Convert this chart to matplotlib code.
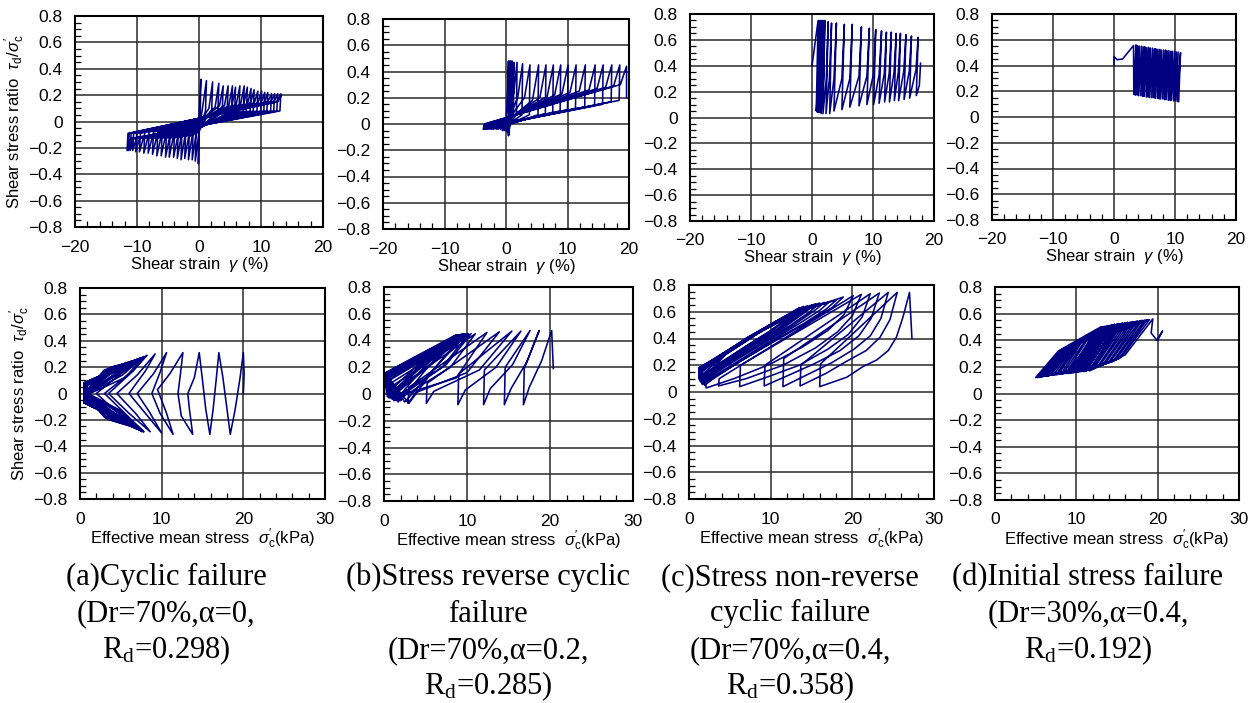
import matplotlib
matplotlib.use("Agg")
import matplotlib.pyplot as plt
from matplotlib.ticker import MultipleLocator, FuncFormatter

plt.rcParams["font.family"] = ["Liberation Sans", "DejaVu Sans"]
plt.rcParams["mathtext.fontset"] = "custom"
plt.rcParams["mathtext.rm"] = "Liberation Sans"
plt.rcParams["mathtext.it"] = "Liberation Sans:italic"

# ---- (a) cyclic failure: shear strain (%) vs stress ratio ----
a_top_strain = [
    0.0,
    0.0, 0.3, 0.2, 0.0, -0.1, 0.0,
    0.5, 1.2, 1.05, 0.0, -0.6, -0.45,
    1.6, 2.2, 2.05, -0.5, -1.1, -0.95,
    2.6, 3.2, 3.05, -1.1, -1.7, -1.55,
    3.3, 3.9, 3.75, -1.7, -2.3, -2.15,
    4.1, 4.7, 4.55, -2.3, -2.9, -2.75,
    4.8, 5.4, 5.25, -2.9, -3.5, -3.35,
    5.3, 5.9, 5.75, -3.5, -4.1, -3.95,
    6.0, 6.6, 6.45, -4.2, -4.8, -4.65,
    6.7, 7.3, 7.15, -4.8, -5.4, -5.25,
    7.2, 7.8, 7.65, -5.5, -6.1, -5.95,
    7.8, 8.4, 8.25, -6.2, -6.8, -6.65,
    8.3, 8.9, 8.75, -6.9, -7.5, -7.35,
    8.9, 9.5, 9.35, -7.6, -8.2, -8.05,
    9.5, 10.1, 9.95, -8.3, -8.9, -8.75,
    10.0, 10.6, 10.45, -9.0, -9.6, -9.45,
    10.5, 11.1, 10.95, -9.6, -10.2, -10.05,
    11.1, 11.7, 11.55, -10.1, -10.7, -10.55,
    11.6, 12.2, 12.05, -10.5, -11.1, -10.95,
    12.1, 12.7, 12.55, -10.8, -11.4, -11.25,
    12.6, 13.2, 13.05, -11.0, -11.6, -11.45,
    12.7, 13.3,
]
a_top_ratio = [
    0.0,
    0.05, 0.32, 0.06, -0.05, -0.32, -0.06,
    0.08, 0.31, 0.08, -0.08, -0.30, -0.05,
    0.10, 0.30, 0.09, -0.10, -0.29, -0.06,
    0.11, 0.29, 0.08, -0.11, -0.29, -0.06,
    0.12, 0.27, 0.08, -0.12, -0.28, -0.07,
    0.12, 0.27, 0.09, -0.12, -0.29, -0.07,
    0.12, 0.27, 0.08, -0.12, -0.28, -0.07,
    0.12, 0.26, 0.08, -0.13, -0.27, -0.07,
    0.13, 0.27, 0.08, -0.13, -0.27, -0.07,
    0.13, 0.27, 0.08, -0.13, -0.27, -0.08,
    0.13, 0.26, 0.08, -0.13, -0.26, -0.08,
    0.13, 0.25, 0.08, -0.13, -0.26, -0.08,
    0.14, 0.24, 0.08, -0.13, -0.25, -0.08,
    0.14, 0.23, 0.08, -0.13, -0.24, -0.08,
    0.14, 0.23, 0.08, -0.13, -0.24, -0.08,
    0.14, 0.22, 0.08, -0.13, -0.23, -0.09,
    0.14, 0.22, 0.08, -0.13, -0.23, -0.09,
    0.15, 0.21, 0.08, -0.13, -0.22, -0.09,
    0.15, 0.21, 0.08, -0.13, -0.22, -0.09,
    0.15, 0.21, 0.08, -0.13, -0.22, -0.09,
    0.15, 0.21, 0.08, -0.13, -0.22, -0.09,
    0.15, 0.20,
]

# ---- (b) stress reverse cyclic failure ----
b_top_strain = [
    0.0,
    0.3, 0.4, 0.35, 0.45, 0.4, 0.45,
    0.5, 0.6, 0.55, 0.55, 0.5, 0.55,
    0.7, 0.8, 0.75, 0.6, 0.5, 0.55,
    0.9, 1.0, 0.95, 0.6, 0.4, 0.5,
    1.1, 1.3, 1.2, 0.5, 0.2, 0.3,
    1.3, 1.8, 1.7, 0.3, 0.0, 0.1,
    1.9, 2.7, 2.6, 0.1, -0.3, -0.15,
    3.0, 3.9, 3.8, -0.2, -0.6, -0.45,
    4.3, 5.3, 5.2, -0.5, -0.9, -0.75,
    5.5, 6.5, 6.4, -0.9, -1.3, -1.15,
    6.7, 7.7, 7.6, -1.2, -1.6, -1.45,
    7.9, 8.9, 8.8, -1.6, -2.0, -1.85,
    9.1, 10.1, 10.0, -1.9, -2.3, -2.15,
    10.4, 11.4, 11.3, -2.2, -2.6, -2.45,
    11.9, 12.9, 12.8, -2.5, -2.9, -2.75,
    13.5, 14.5, 14.4, -2.7, -3.1, -2.95,
    14.8, 15.8, 15.7, -2.9, -3.3, -3.15,
    16.2, 17.2, 17.1, -3.1, -3.5, -3.35,
    17.5, 18.5, 18.4, -3.3, -3.7, -3.55,
    18.6, 19.6, 19.6,
]
b_top_ratio = [
    0.0,
    0.30, 0.48, 0.10, -0.02, -0.09, 0.00,
    0.30, 0.48, 0.10, 0.00, -0.08, 0.02,
    0.30, 0.48, 0.10, 0.00, -0.08, 0.02,
    0.30, 0.48, 0.10, 0.00, -0.07, 0.02,
    0.30, 0.47, 0.08, 0.00, -0.06, 0.01,
    0.25, 0.47, 0.07, -0.01, -0.05, 0.00,
    0.20, 0.46, 0.07, -0.01, -0.05, 0.00,
    0.20, 0.45, 0.07, -0.02, -0.05, 0.00,
    0.18, 0.45, 0.07, -0.02, -0.04, 0.00,
    0.20, 0.45, 0.08, -0.02, -0.04, 0.00,
    0.21, 0.45, 0.09, -0.02, -0.04, 0.00,
    0.22, 0.45, 0.10, -0.02, -0.04, 0.00,
    0.23, 0.45, 0.11, -0.02, -0.04, 0.00,
    0.24, 0.45, 0.12, -0.02, -0.04, 0.00,
    0.25, 0.45, 0.13, -0.02, -0.04, 0.00,
    0.26, 0.45, 0.14, -0.02, -0.04, 0.00,
    0.27, 0.45, 0.15, -0.02, -0.04, 0.00,
    0.28, 0.45, 0.17, -0.02, -0.04, 0.00,
    0.29, 0.45, 0.18, -0.02, -0.04, 0.00,
    0.30, 0.44, 0.20,
]

# ---- (c) stress non-reverse cyclic failure ----
c_top_strain = [
    0.0,
    1.0, 0.7,
    1.05, 1.2, 0.9,
    1.25, 1.4, 1.1,
    1.45, 1.6, 1.3,
    1.65, 1.85, 1.5,
    1.9, 2.1, 1.8,
    2.35, 2.65, 2.3,
    2.85, 3.2, 2.9,
    3.6, 4.0, 3.6,
    4.9, 5.3, 4.9,
    6.2, 6.6, 6.2,
    7.7, 8.1, 7.7,
    9.0, 9.4, 9.0,
    10.05, 10.45, 10.1,
    11.0, 11.4, 11.0,
    11.85, 12.2, 11.9,
    12.65, 13.0, 12.7,
    13.45, 13.8, 13.5,
    14.15, 14.5, 14.2,
    15.05, 15.4, 15.1,
    15.95, 16.3, 16.0,
    17.05, 17.4, 17.1,
    17.6, 17.8,
]
c_top_ratio = [
    0.40,
    0.75, 0.05,
    0.30, 0.75, 0.04,
    0.30, 0.75, 0.04,
    0.30, 0.75, 0.04,
    0.30, 0.75, 0.03,
    0.30, 0.75, 0.03,
    0.30, 0.74, 0.03,
    0.30, 0.73, 0.03,
    0.30, 0.73, 0.05,
    0.30, 0.72, 0.06,
    0.30, 0.72, 0.08,
    0.32, 0.70, 0.09,
    0.32, 0.69, 0.10,
    0.33, 0.68, 0.10,
    0.33, 0.67, 0.11,
    0.34, 0.66, 0.12,
    0.34, 0.66, 0.12,
    0.35, 0.65, 0.13,
    0.35, 0.65, 0.13,
    0.36, 0.64, 0.14,
    0.36, 0.63, 0.15,
    0.37, 0.62, 0.17,
    0.25, 0.42,
]

# ---- (d) initial stress failure ----
d_top_strain = [
    0.0, 0.0, 0.5, 1.4,
    3.2, 3.25, 3.6, 3.5, 3.85, 3.8, 4.15, 4.05, 4.5, 4.4,
    4.8, 4.7, 5.05, 4.95, 5.4, 5.3, 5.7, 5.6, 5.95, 5.85,
    6.3, 6.2, 6.6, 6.5, 6.85, 6.75, 7.2, 7.1, 7.5, 7.4,
    7.75, 7.65, 8.1, 8.0, 8.4, 8.3, 8.65, 8.55, 9.0, 8.9,
    9.3, 9.2, 9.55, 9.45, 9.9, 9.8, 10.2, 10.1, 10.5, 10.4,
    10.9, 10.6,
]
d_top_ratio = [
    0.40, 0.47, 0.445, 0.45,
    0.555, 0.175, 0.56, 0.17, 0.555, 0.17, 0.55, 0.165, 0.55, 0.165,
    0.545, 0.16, 0.545, 0.16, 0.54, 0.155, 0.54, 0.155, 0.535, 0.15,
    0.535, 0.15, 0.53, 0.15, 0.53, 0.145, 0.525, 0.145, 0.525, 0.14,
    0.52, 0.14, 0.52, 0.14, 0.52, 0.135, 0.515, 0.135, 0.515, 0.13,
    0.51, 0.13, 0.51, 0.13, 0.51, 0.125, 0.505, 0.125, 0.505, 0.12,
    0.50, 0.12,
]

# ---- effective stress paths (kPa vs stress ratio) ----
a_bot_stress = [
    20.0, 20.1, 20.0,
    19.6, 19.0, 18.4, 18.0, 17.5, 17.0,
    16.7, 16.3, 15.9, 15.4, 15.0, 14.6,
    14.0, 13.2, 13.4, 13.8, 12.4, 12.0, 12.3, 12.6,
    11.0, 9.5, 10.6, 11.4, 9.8, 8.8, 9.8, 10.6,
    9.0, 7.0, 8.5, 10.0, 8.0, 6.0, 8.0, 9.2,
    7.0, 4.5, 6.8, 8.6, 6.0, 3.5, 6.5, 8.2,
    6.0, 3.0, 5.5, 7.8, 4.5, 2.0, 5.0, 7.9,
    5.5, 1.2, 1.0, 7.8, 5.0, 1.0, 0.9, 7.8,
    5.2, 1.0, 0.9, 7.6, 5.2, 0.9, 0.8, 7.8,
    4.8, 0.9, 0.8, 7.7, 4.6, 0.8, 0.8, 7.6,
    5.0, 0.8, 0.8, 7.4, 4.8, 0.7, 0.7, 7.5,
    4.5, 0.8, 0.7, 7.5, 4.2, 0.7, 0.7, 7.4,
    4.2, 0.7, 0.7, 7.2, 4.4, 0.6, 0.6, 7.5,
    4.6, 0.7, 0.6, 7.3, 4.0, 0.6, 0.6, 7.3,
    3.8, 0.6, 0.6, 7.0, 3.8, 0.6, 0.6, 7.2,
    4.0, 0.6, 0.6, 7.1, 4.2, 0.5, 0.5, 7.0,
    3.5, 0.6, 0.5, 6.9, 3.5, 0.5, 0.5, 7.1,
    3.8, 0.5, 0.5, 6.8, 3.6, 0.5, 0.5, 6.8,
    3.2, 0.5, 0.5, 6.6, 3.0, 0.5, 0.5, 6.6,
    3.5, 0.5, 0.5, 6.5, 3.2, 0.5, 0.5, 6.5,
    3.0, 0.5, 0.5, 6.3, 3.0, 0.5,
]
a_bot_ratio = [
    0.0, 0.15, 0.31,
    0.12, -0.12, -0.31, -0.12, 0.12, 0.31,
    0.12, -0.12, -0.31, -0.12, 0.10, 0.31,
    0.12, 0.0, -0.12, -0.31, -0.17, 0.0, 0.15, 0.31,
    0.15, 0.03, -0.15, -0.31, -0.15, 0.0, 0.16, 0.31,
    0.15, 0.0, -0.14, -0.30, -0.15, 0.0, 0.17, 0.30,
    0.14, 0.0, -0.15, -0.29, -0.15, 0.0, 0.17, 0.29,
    0.15, 0.0, -0.15, -0.29, -0.14, 0.0, 0.15, 0.28,
    0.12, 0.0, -0.05, -0.29, -0.13, 0.0, 0.06, 0.28,
    0.14, 0.0, -0.05, -0.29, -0.15, 0.0, 0.06, 0.27,
    0.15, 0.0, -0.05, -0.28, -0.14, 0.0, 0.07, 0.27,
    0.17, 0.0, -0.06, -0.28, -0.17, 0.0, 0.07, 0.27,
    0.16, 0.0, -0.06, -0.28, -0.15, 0.0, 0.07, 0.27,
    0.18, 0.0, -0.06, -0.27, -0.18, 0.0, 0.08, 0.26,
    0.19, 0.0, -0.06, -0.27, -0.16, 0.0, 0.08, 0.26,
    0.17, 0.0, -0.07, -0.27, -0.18, 0.0, 0.08, 0.26,
    0.20, 0.0, -0.07, -0.26, -0.20, 0.0, 0.08, 0.26,
    0.18, 0.0, -0.07, -0.26, -0.17, 0.0, 0.08, 0.25,
    0.20, 0.0, -0.07, -0.26, -0.20, 0.0, 0.08, 0.25,
    0.17, 0.0, -0.07, -0.25, -0.17, 0.0, 0.08, 0.25,
    0.19, 0.0, -0.07, -0.25, -0.19, 0.0, 0.08, 0.24,
    0.18, 0.0, -0.07, -0.24, -0.18, 0.0,
]

b_bot_stress = [
    20.4, 20.2,
    19.0, 17.5, 16.8, 16.9, 18.7,
    17.2, 15.3, 14.5, 14.6, 17.6,
    15.5, 12.8, 12.0, 12.1, 16.5,
    13.5, 9.8, 8.9, 9.0, 15.4,
    11.5, 6.0, 5.1, 5.2, 13.9,
    10.0, 3.8, 2.9, 3.0, 12.4,
    8.7, 2.5, 1.7, 1.5, 11.0,
    8.0, 1.5, 1.0, 10.5,
    7.5, 1.2, 0.8, 10.2,
    7.0, 1.0, 0.6, 10.0,
    6.5, 2.5, 0.5, 9.8,
    6.0, 0.8, 0.4, 9.6,
    6.2, 3.0, 0.3, 9.4,
    5.5, 0.6, 0.3, 9.2,
    5.0, 2.0, 0.3, 9.0,
    5.6, 0.5, 0.2, 8.9,
    4.8, 1.5, 0.3, 8.8,
    5.0, 0.4, 0.2, 8.7,
    4.5, 1.0, 0.2, 8.6,
    5.2, 0.3, 0.2,
]
b_bot_ratio = [
    0.19, 0.475,
    0.25, 0.05, -0.08, 0.19, 0.475,
    0.24, 0.04, -0.08, 0.20, 0.475,
    0.22, 0.04, -0.08, 0.18, 0.47,
    0.20, 0.03, -0.08, 0.15, 0.47,
    0.18, 0.02, -0.07, 0.08, 0.465,
    0.16, 0.01, -0.07, 0.05, 0.46,
    0.12, 0.00, -0.06, 0.04, 0.45,
    0.20, -0.05, 0.06, 0.45,
    0.22, -0.05, 0.08, 0.45,
    0.20, -0.04, 0.10, 0.45,
    0.22, -0.06, 0.12, 0.45,
    0.24, -0.03, 0.10, 0.45,
    0.20, -0.07, 0.14, 0.45,
    0.22, -0.03, 0.12, 0.44,
    0.18, -0.05, 0.15, 0.44,
    0.26, -0.02, 0.13, 0.44,
    0.20, -0.04, 0.16, 0.44,
    0.25, -0.02, 0.14, 0.44,
    0.22, -0.03, 0.16, 0.44,
    0.28, 0.00, 0.15,
]

c_bot_stress = [
    27.3, 27.0,
    26.2, 25.4, 24.4, 23.0, 21.3, 19.3, 16.0, 16.1, 25.5,
    24.6, 23.4, 21.7, 19.3, 16.8, 13.6, 13.7, 24.4,
    23.5, 22.2, 20.2, 17.5, 14.5, 11.5, 11.6, 23.3,
    22.3, 20.8, 18.5, 15.3, 12.0, 9.2, 9.3, 22.2,
    21.2, 19.5, 17.0, 13.5, 9.5, 6.2, 6.3, 21.1,
    20.0, 18.2, 15.5, 11.5, 7.0, 3.6, 3.7, 20.1,
    19.0, 17.0, 14.0, 10.0, 5.5, 2.1, 2.0, 4.5, 9.0, 13.5, 18.9,
    17.5, 14.5, 10.5, 6.0, 3.0, 1.9, 1.8, 4.2, 8.5, 13.0, 18.1,
    16.8, 14.0, 10.0, 5.8, 2.8, 1.7, 1.6, 4.0, 8.2, 12.6, 17.2,
    16.0, 13.2, 9.4, 5.2, 2.5, 1.6, 1.5, 3.8, 8.0, 12.3, 16.6,
    15.4, 12.8, 9.0, 5.0, 2.4, 1.5, 1.4, 3.6, 7.8, 12.0, 16.0,
    14.8, 12.2, 8.6, 4.8, 2.3, 1.4, 1.3, 3.5, 7.6, 11.7, 15.5,
    14.3, 11.8, 8.2, 4.5, 2.2, 1.4, 1.3, 3.4, 7.4, 11.4, 15.0,
    13.8, 11.3, 7.8, 4.3, 2.1, 1.3, 1.3, 3.3, 7.2, 11.0, 14.5,
    13.3, 10.8, 7.5, 4.0, 2.0, 1.3, 1.2, 3.2, 7.0, 10.7, 14.0,
    12.8, 10.4, 7.2, 3.8, 1.9, 1.2, 1.2, 3.1, 6.8, 10.4, 13.5,
    12.4, 10.0, 6.9, 3.6, 1.8, 1.2, 1.2,
]
c_bot_ratio = [
    0.40, 0.745,
    0.56, 0.41, 0.31, 0.24, 0.19, 0.11, 0.04, 0.21, 0.745,
    0.54, 0.41, 0.31, 0.23, 0.14, 0.045, 0.20, 0.745,
    0.55, 0.42, 0.32, 0.22, 0.13, 0.04, 0.25, 0.74,
    0.55, 0.42, 0.31, 0.21, 0.12, 0.045, 0.20, 0.735,
    0.56, 0.43, 0.32, 0.20, 0.11, 0.04, 0.20, 0.73,
    0.57, 0.45, 0.33, 0.20, 0.10, 0.045, 0.10, 0.72,
    0.58, 0.46, 0.34, 0.21, 0.10, 0.03, 0.12, 0.28, 0.46, 0.60, 0.71,
    0.63, 0.52, 0.38, 0.22, 0.10, 0.05, 0.14, 0.27, 0.44, 0.59, 0.69,
    0.62, 0.51, 0.37, 0.21, 0.10, 0.06, 0.15, 0.27, 0.43, 0.58, 0.675,
    0.61, 0.50, 0.36, 0.20, 0.10, 0.06, 0.16, 0.27, 0.43, 0.57, 0.67,
    0.61, 0.50, 0.36, 0.21, 0.11, 0.07, 0.16, 0.26, 0.42, 0.57, 0.665,
    0.60, 0.49, 0.36, 0.21, 0.11, 0.08, 0.17, 0.26, 0.42, 0.56, 0.66,
    0.60, 0.49, 0.36, 0.21, 0.12, 0.08, 0.17, 0.26, 0.41, 0.55, 0.65,
    0.59, 0.48, 0.35, 0.21, 0.12, 0.09, 0.17, 0.25, 0.41, 0.54, 0.645,
    0.58, 0.47, 0.35, 0.21, 0.12, 0.10, 0.18, 0.25, 0.40, 0.53, 0.64,
    0.57, 0.47, 0.35, 0.21, 0.13, 0.10, 0.18, 0.25, 0.39, 0.52, 0.63,
    0.57, 0.46, 0.34, 0.21, 0.13, 0.11, 0.18,
]

d_bot_stress = [
    20.0, 20.6, 19.9, 19.2, 19.4,
    16.0, 11.6, 14.5, 19.0,
    15.5, 11.2, 14.0, 18.7,
    15.2, 10.9, 13.6, 18.4,
    14.8, 10.6, 13.2, 18.1,
    14.5, 10.2, 12.8, 17.8,
    14.2, 9.9, 12.5, 17.5,
    13.9, 9.6, 12.2, 17.2,
    13.6, 9.3, 11.9, 16.9,
    13.3, 9.0, 11.6, 16.6,
    13.0, 8.7, 11.3, 16.3,
    12.7, 8.4, 11.0, 16.0,
    12.4, 8.1, 10.7, 15.7,
    12.1, 7.8, 10.4, 15.5,
    11.8, 7.5, 10.2, 15.2,
    11.5, 7.2, 9.9, 15.0,
    11.2, 6.9, 9.6, 14.7,
    10.9, 6.6, 9.4, 14.5,
    10.6, 6.4, 9.2, 14.3,
    10.3, 6.2, 9.0, 14.1,
    10.0, 6.0, 8.8, 13.9,
    9.8, 5.8, 8.6, 13.7,
    9.6, 5.6, 8.4, 13.5,
    9.4, 5.4, 8.2, 13.3,
    9.2, 5.2, 8.0, 13.2,
    9.0, 5.0, 7.8, 13.0,
]
d_bot_ratio = [
    0.40, 0.47, 0.40, 0.455, 0.56,
    0.29, 0.17, 0.45, 0.555,
    0.27, 0.17, 0.44, 0.555,
    0.26, 0.165, 0.44, 0.55,
    0.25, 0.165, 0.43, 0.55,
    0.24, 0.16, 0.42, 0.545,
    0.24, 0.16, 0.42, 0.545,
    0.23, 0.155, 0.41, 0.54,
    0.23, 0.155, 0.41, 0.54,
    0.22, 0.15, 0.40, 0.535,
    0.22, 0.15, 0.40, 0.535,
    0.21, 0.15, 0.39, 0.53,
    0.21, 0.145, 0.39, 0.53,
    0.20, 0.145, 0.38, 0.525,
    0.20, 0.14, 0.38, 0.525,
    0.20, 0.14, 0.37, 0.52,
    0.19, 0.14, 0.36, 0.52,
    0.19, 0.135, 0.36, 0.515,
    0.19, 0.135, 0.35, 0.515,
    0.18, 0.13, 0.35, 0.51,
    0.18, 0.13, 0.34, 0.51,
    0.18, 0.13, 0.34, 0.505,
    0.17, 0.125, 0.33, 0.505,
    0.17, 0.125, 0.33, 0.50,
    0.17, 0.12, 0.32, 0.50,
    0.17, 0.12, 0.32, 0.50,
]

captions = [
    ["(a)Cyclic failure", "(Dr=70%,α=0,", r"$\mathregular{R_d}$=0.298)"],
    ["(b)Stress reverse cyclic", "failure", "(Dr=70%,α=0.2,", r"$\mathregular{R_d}$=0.285)"],
    ["(c)Stress non-reverse", "cyclic failure", "(Dr=70%,α=0.4,", r"$\mathregular{R_d}$=0.358)"],
    ["(d)Initial stress failure", "(Dr=30%,α=0.4,", r"$\mathregular{R_d}$=0.192)"],
]

LINE = "#000080"
W, H = 1258, 703

# axes boxes in pixels: left, top, right, bottom
top_boxes = [(75, 16, 323, 227), (383, 19, 629, 229), (690, 14, 934, 221), (992, 14, 1236, 220)]
bot_boxes = [(80, 288, 325, 499), (384, 287, 633, 501), (689, 285, 934, 499), (995, 287, 1239, 500)]
caption_x = [166, 488, 790, 1088]


def box(l, t, r, b):
    return [l / W, 1 - b / H, (r - l) / W, (b - t) / H]


def ratio_fmt(v, pos):
    if abs(v) < 1e-9:
        return "0"
    return f"{v:.1f}".replace("-", "\u2212")


def int_fmt(v, pos):
    return f"{v:.0f}".replace("-", "\u2212")


def setup(ax, xlim, xticks, xlabel, ylabel):
    ax.set_xlim(*xlim)
    ax.set_ylim(-0.8, 0.8)
    ax.set_xticks(xticks)
    ax.set_yticks([-0.8, -0.6, -0.4, -0.2, 0, 0.2, 0.4, 0.6, 0.8])
    ax.xaxis.set_minor_locator(MultipleLocator(2))
    ax.yaxis.set_minor_locator(MultipleLocator(0.05))
    ax.xaxis.set_major_formatter(FuncFormatter(int_fmt))
    ax.yaxis.set_major_formatter(FuncFormatter(ratio_fmt))
    ax.grid(True, which="major", color="#2a2a2a", lw=1.1)
    ax.set_axisbelow(True)
    ax.tick_params(which="major", length=0, labelsize=12.5, pad=9)
    ax.tick_params(which="minor", direction="in", length=4, width=0.9, color="black")
    for s in ax.spines.values():
        s.set_linewidth(1.5)
        s.set_color("black")
    ax.set_xlabel(xlabel, fontsize=12, labelpad=0)
    if ylabel:
        ax.set_ylabel(ylabel, fontsize=12, labelpad=1)


fig = plt.figure(figsize=(W / 100, H / 100), dpi=100)

ylab = r"Shear stress ratio  $\tau_{\rm d}/\sigma_{\rm c}^{\prime}$"
top_data = [(a_top_strain, a_top_ratio), (b_top_strain, b_top_ratio),
            (c_top_strain, c_top_ratio), (d_top_strain, d_top_ratio)]
bot_data = [(a_bot_stress, a_bot_ratio), (b_bot_stress, b_bot_ratio),
            (c_bot_stress, c_bot_ratio), (d_bot_stress, d_bot_ratio)]

for i, (bx, (x, y)) in enumerate(zip(top_boxes, top_data)):
    ax = fig.add_axes(box(*bx))
    ax.plot(x, y, color=LINE, lw=1.15)
    setup(ax, (-20, 20), [-20, -10, 0, 10, 20], r"Shear strain  $\gamma$ (%)",
          ylab if i == 0 else None)

for i, (bx, (x, y)) in enumerate(zip(bot_boxes, bot_data)):
    ax = fig.add_axes(box(*bx))
    ax.plot(x, y, color=LINE, lw=1.15)
    setup(ax, (0, 30), [0, 10, 20, 30], r"Effective mean stress  $\sigma_{\rm c}^{\prime}$(kPa)",
          ylab if i == 0 else None)

for cx, lines in zip(caption_x, captions):
    for k, line in enumerate(lines):
        fig.text(cx / W, 1 - (585 + 36.5 * k) / H, line, ha="center", va="baseline",
                 fontsize=22, family="Liberation Serif")

fig.savefig("out.png", dpi=100)
